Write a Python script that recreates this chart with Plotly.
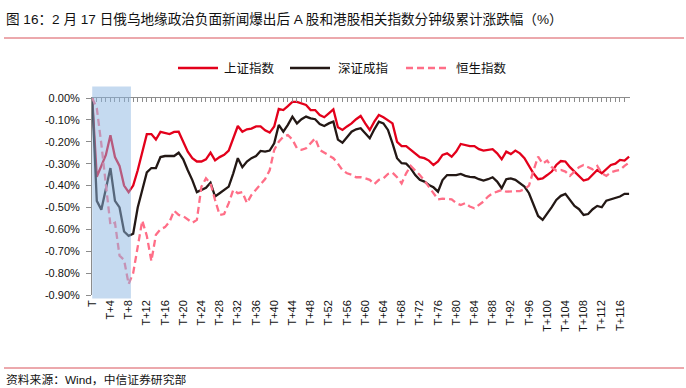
import plotly.graph_objects as go

# ---------------- data ----------------
minutes = list(range(119))  # T ... T+118

sh_index = [0, -0.36, -0.31, -0.26, -0.17, -0.27, -0.31, -0.40, -0.43, -0.40,
            -0.33, -0.245, -0.165, -0.165, -0.19, -0.155, -0.16, -0.165, -0.155, -0.154,
            -0.20, -0.245, -0.275, -0.29, -0.29, -0.28, -0.25, -0.285, -0.27, -0.26,
            -0.24, -0.18, -0.128, -0.154, -0.143, -0.14, -0.13, -0.13, -0.148, -0.158,
            -0.13, -0.05, -0.055, -0.037, -0.018, -0.018, -0.024, -0.032, -0.055, -0.055,
            -0.078, -0.088, -0.07, -0.052, -0.134, -0.146, -0.13, -0.116, -0.097, -0.082,
            -0.116, -0.146, -0.108, -0.078, -0.088, -0.103, -0.116, -0.20, -0.22, -0.22,
            -0.237, -0.253, -0.27, -0.275, -0.286, -0.306, -0.29, -0.26, -0.253, -0.268,
            -0.245, -0.21, -0.215, -0.22, -0.22, -0.234, -0.24, -0.237, -0.234, -0.253,
            -0.28, -0.245, -0.256, -0.24, -0.253, -0.275, -0.31, -0.345, -0.371, -0.367,
            -0.352, -0.336, -0.306, -0.288, -0.29, -0.316, -0.336, -0.356, -0.377, -0.371,
            -0.352, -0.329, -0.344, -0.326, -0.306, -0.30, -0.283, -0.286, -0.268]

sz_index = [0, -0.47, -0.51, -0.42, -0.32, -0.47, -0.50, -0.61, -0.63, -0.62,
            -0.50, -0.42, -0.34, -0.32, -0.32, -0.27, -0.265, -0.265, -0.265, -0.25,
            -0.28, -0.33, -0.375, -0.43, -0.42, -0.41, -0.387, -0.45, -0.435, -0.42,
            -0.405, -0.344, -0.275, -0.316, -0.29, -0.275, -0.265, -0.242, -0.245, -0.24,
            -0.207, -0.123, -0.154, -0.123, -0.085, -0.116, -0.097, -0.085, -0.093, -0.097,
            -0.119, -0.128, -0.116, -0.108, -0.19, -0.204, -0.177, -0.154, -0.143, -0.138,
            -0.161, -0.184, -0.143, -0.108, -0.116, -0.146, -0.207, -0.275, -0.298, -0.30,
            -0.321, -0.352, -0.374, -0.382, -0.397, -0.408, -0.428, -0.375, -0.352, -0.352,
            -0.352, -0.347, -0.356, -0.36, -0.362, -0.371, -0.377, -0.371, -0.362, -0.382,
            -0.412, -0.371, -0.367, -0.374, -0.39, -0.405, -0.435, -0.49, -0.539, -0.557,
            -0.53, -0.499, -0.466, -0.447, -0.438, -0.466, -0.493, -0.508, -0.534, -0.53,
            -0.508, -0.493, -0.499, -0.469, -0.463, -0.458, -0.45, -0.438, -0.438]

hs_index = [0, -0.046, -0.21, -0.39, -0.58, -0.57, -0.72, -0.74, -0.85, -0.80,
            -0.68, -0.56, -0.63, -0.745, -0.625, -0.60, -0.59, -0.565, -0.515, -0.534,
            -0.54, -0.557, -0.57, -0.557, -0.405, -0.367, -0.39, -0.466, -0.534, -0.53,
            -0.48, -0.42, -0.435, -0.43, -0.48, -0.443, -0.42, -0.397, -0.37, -0.33,
            -0.237, -0.20, -0.177, -0.169, -0.19, -0.23, -0.237, -0.23, -0.207, -0.184,
            -0.237, -0.25, -0.26, -0.275, -0.30, -0.33, -0.344, -0.35, -0.362, -0.362,
            -0.367, -0.374, -0.393, -0.374, -0.367, -0.347, -0.341, -0.362, -0.39, -0.344,
            -0.31, -0.329, -0.352, -0.377, -0.405, -0.435, -0.463, -0.46, -0.46, -0.463,
            -0.48, -0.489, -0.48, -0.496, -0.504, -0.489, -0.473, -0.45, -0.435, -0.428,
            -0.42, -0.428, -0.428, -0.428, -0.425, -0.417, -0.40, -0.33, -0.268, -0.30,
            -0.286, -0.316, -0.332, -0.329, -0.336, -0.356, -0.336, -0.316, -0.306, -0.316,
            -0.326, -0.31, -0.344, -0.356, -0.34, -0.333, -0.329, -0.31, -0.295]

series_names = ["上证指数", "深证成指", "恒生指数"]
x_tick_vals = list(range(0, 117, 4))
x_tick_text = ["T" if v == 0 else f"T+{v}" for v in x_tick_vals]
y_tick_vals = [0, -0.1, -0.2, -0.3, -0.4, -0.5, -0.6, -0.7, -0.8, -0.9]
y_tick_text = [f"{v:.2f}%" for v in y_tick_vals]
shade_start, shade_end = 0, 8.5  # first minutes after the news

title_text = "图 16：2 月 17 日俄乌地缘政治负面新闻爆出后 A 股和港股相关指数分钟级累计涨跌幅（%）"
source_text = "资料来源：Wind，中信证券研究部"

# ---------------- figure ----------------
FONT = "Liberation Sans, Arial, Noto Sans CJK SC, sans-serif"
W, H = 686, 388
ML, MR, MT, MB = 92, 56, 98, 93
pw, ph = W - ML - MR, H - MT - MB

def px_x(p):
    return (p - ML) / pw

def px_y(p):
    return (H - MB - p) / ph

colors = ["#E3001B", "#231815", "#FF6E87"]
dashes = ["solid", "solid", "7px,4px"]

fig = go.Figure()
for name, vals, c, d in zip(series_names, [sh_index, sz_index, hs_index], colors, dashes):
    fig.add_trace(go.Scatter(x=minutes, y=vals, name=name, mode="lines",
                             line=dict(color=c, width=2.3, dash=d)))

xr = [-0.05, 118.2]
fig.update_layout(
    width=W, height=H,
    margin=dict(l=ML, r=MR, t=MT, b=MB, autoexpand=False),
    paper_bgcolor="white", plot_bgcolor="white",
    font=dict(family=FONT, size=11, color="#111111"),
    showlegend=False,
    xaxis=dict(range=xr, tickmode="array", tickvals=x_tick_vals, ticktext=x_tick_text,
               tickangle=-90, showgrid=False, zeroline=False, showline=False, ticks="",
               tickfont=dict(size=11, color="#111111"), ticklabelstandoff=2, automargin=False),
    xaxis2=dict(range=xr, overlaying="x", side="top", anchor="y", showgrid=False,
                zeroline=False, showline=True, linecolor="#8c8c8c", linewidth=1,
                ticks="inside", ticklen=4, tickcolor="#8c8c8c", tickwidth=1,
                tickmode="linear", tick0=0, dtick=1, showticklabels=False, automargin=False),
    yaxis=dict(range=[-0.9, 0], tickmode="array", tickvals=y_tick_vals, ticktext=y_tick_text,
               showgrid=False, zeroline=False, showline=True, linecolor="#8c8c8c", linewidth=1,
               ticks="outside", ticklen=5, tickcolor="#8c8c8c",
               tickfont=dict(size=11, color="#111111"), ticklabelstandoff=4, automargin=False),
)
# invisible trace so xaxis2 (tick line along 0%) is active
fig.add_trace(go.Scatter(x=[xr[0]], y=[0], xaxis="x2", mode="markers",
                         marker=dict(opacity=0), showlegend=False, hoverinfo="skip"))

# shaded window
fig.add_shape(type="rect", xref="x", yref="paper", x0=shade_start, x1=shade_end,
              y0=px_y(298.5), y1=px_y(86.5), fillcolor="rgba(139,181,225,0.5)",
              line=dict(width=0), layer="above")

# legend (drawn manually for exact placement)
leg_line_x = [178, 290, 406]
leg_text_x = [222, 336, 454]
leg_y = 68
for name, c, d, lx, tx in zip(series_names, colors, dashes, leg_line_x, leg_text_x):
    fig.add_shape(type="line", xref="paper", yref="paper", x0=px_x(lx), x1=px_x(lx + 40),
                  y0=px_y(leg_y), y1=px_y(leg_y), line=dict(color=c, width=2.3, dash=d))
    fig.add_annotation(text=name, xref="paper", yref="paper", x=px_x(tx), y=px_y(leg_y),
                       xanchor="left", yanchor="middle", showarrow=False,
                       font=dict(size=12.5, color="#111111", family=FONT))

# title + rules
fig.add_annotation(text=title_text, xref="paper", yref="paper", x=px_x(4), y=px_y(19),
                   xanchor="left", yanchor="middle", showarrow=False,
                   font=dict(size=13.6, color="#111111", family=FONT))
fig.add_shape(type="line", xref="paper", yref="paper", x0=px_x(4), x1=px_x(684),
              y0=px_y(38), y1=px_y(38), line=dict(color="#D9525A", width=1))
fig.add_shape(type="line", xref="paper", yref="paper", x0=px_x(4), x1=px_x(684),
              y0=px_y(368), y1=px_y(368), line=dict(color="#D9525A", width=1))
fig.add_annotation(text=source_text, xref="paper", yref="paper", x=px_x(4), y=px_y(380),
                   xanchor="left", yanchor="middle", showarrow=False,
                   font=dict(size=11.8, color="#111111", family=FONT))

fig.write_html("out.html", config={"displayModeBar": False},
               post_script="document.body.style.margin='0';document.body.style.overflow='hidden';")
